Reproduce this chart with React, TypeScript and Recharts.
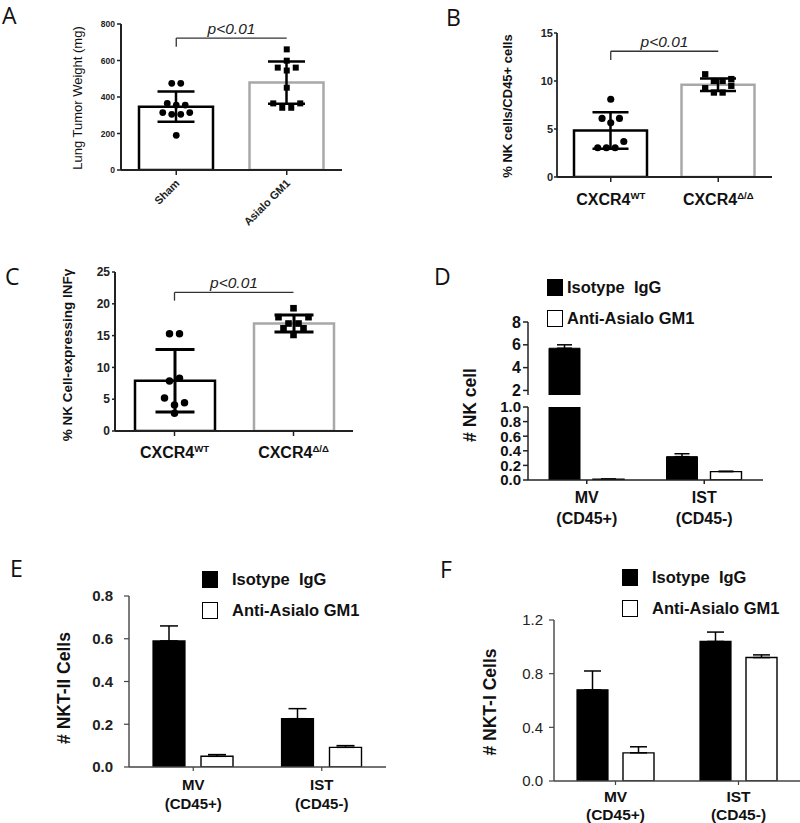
import React from "react";
import {
  Bar,
  Cell,
  ComposedChart,
  ErrorBar,
  Legend,
  ReferenceLine,
  Scatter,
  XAxis,
  YAxis,
  ZAxis,
} from "recharts";

const W = 800;
const H = 823;
const YW = 50;
const XH = 40;
const SANS = '"Liberation Sans", Arial, Helvetica, sans-serif';

// ---- panel A: lung tumor weight
const aGroups = ["Sham", "Asialo GM1"];
const aMeans = [347, 479];
const aSD = [83, 116];
const aShamRows = [[475, 475], [365, 356, 356], [315, 305, 305, 315], [190]];
const aAsialoRows = [[661], [599], [561, 545, 561], [451], [365, 341, 341, 365]];
const aTicks = [0, 200, 400, 600, 800];

// ---- panel B: % NK cells / CD45+
const cxcrGroups = ["WT", "KO"];
const cxcrSup = ["WT", "Δ/Δ"];
const bMeans = [4.85, 9.6];
const bSD = [1.9, 0.65];
const bWtRows = [[8.1], [6.1, 5.65, 6.1], [3.05, 3.05, 3.05, 3.7]];
const bKoRows = [[10.7, 10.0, 10.0, 10.2], [9.25, 8.8, 8.8, 9.5]];
const bTicks = [0, 5, 10, 15];

// ---- panel C: % NK cells expressing IFNg
const cMeans = [7.9, 16.9];
const cSD = [4.9, 1.35];
const cWtRows = [[15.3, 15.3], [7.85, 8.3], [5.2, 4.1, 4.45], [2.8]];
const cKoRows = [[19.3], [17.9, 16.9, 16.9, 17.9], [16.15, 15.1, 16.15]];
const cTicks = [0, 5, 10, 15, 20, 25];

// ---- panels D, E, F
const sites = ["MV", "IST"];
const siteSub = ["(CD45+)", "(CD45-)"];
const seriesNames = ["Isotype  IgG", "Anti-Asialo GM1"];

const dIsotype = [5.7, 0.32];
const dIsotypeErr = [0.3, 0.04];
const dAnti = [0.01, 0.115];
const dAntiErr = [0.003, 0.005];
const dTopTicks = [2, 4, 6, 8];
const dLowTicks = [0, 0.2, 0.4, 0.6, 0.8, 1.0];

const eIsotype = [0.59, 0.226];
const eIsotypeErr = [0.07, 0.047];
const eAnti = [0.05, 0.092];
const eAntiErr = [0.008, 0.008];
const eTicks = [0, 0.2, 0.4, 0.6, 0.8];

const fIsotype = [0.68, 1.04];
const fIsotypeErr = [0.14, 0.07];
const fAnti = [0.21, 0.92];
const fAntiErr = [0.045, 0.02];
const fTicks = [0, 0.4, 0.8, 1.2];

type Rect = { x0: number; x1: number; y0: number; y1: number };

const abs: React.CSSProperties = { position: "absolute", left: 0, top: 0 };

function frame(r: Rect, withXAxis = true) {
  return {
    top: r.y0,
    left: r.x0 - YW,
    right: W - r.x1,
    bottom: H - r.y1 - (withXAxis ? XH : 0),
  };
}

// rows of dots are spread sideways, centred on the group
function spread(rows: number[][], index: number, step: number) {
  const pts: { x: number; y: number }[] = [];
  rows.forEach((row) =>
    row.forEach((v, i) => pts.push({ x: index + (i - (row.length - 1) / 2) * step, y: v }))
  );
  return pts;
}

type DotPanelProps = {
  rect: Rect;
  groups: string[];
  means: number[];
  sds: number[];
  leftRows: number[][];
  rightRows: number[][];
  domain: [number, number];
  ticks: number[];
  barSize: number;
  dotGap: number;
  dotArea: number;
  capHalf: number;
  errStroke: number;
  axisStroke: number;
  yTickFont: number;
  yTickSize: number;
  yTickMargin: number;
  bracket: number;
  bracketTick: number;
  xTick: (props: any) => React.ReactElement;
};

function DotBarPanel(p: DotPanelProps) {
  const band = (p.rect.x1 - p.rect.x0) / 2;
  const step = p.dotGap / band;
  const rows = p.groups.map((g, i) => ({ name: g, mean: p.means[i], sd: p.sds[i] }));
  const leftDots = spread(p.leftRows, 0, step);
  const rightDots = spread(p.rightRows, 1, step);
  const barColors = ["#000", "#a8a8a8"];
  return (
    <div style={abs}>
      <ComposedChart width={W} height={H} data={rows} margin={frame(p.rect)}>
        <XAxis
          xAxisId="cat"
          dataKey="name"
          height={XH}
          tickSize={5}
          tickMargin={2}
          axisLine={{ stroke: "#222", strokeWidth: p.axisStroke }}
          tickLine={{ stroke: "#222", strokeWidth: 1.5 }}
          tick={p.xTick}
          interval={0}
        />
        <XAxis xAxisId="dots" type="number" dataKey="x" domain={[-0.5, 1.5]} allowDataOverflow hide />
        <YAxis
          width={YW}
          domain={p.domain}
          ticks={p.ticks}
          interval={0}
          allowDataOverflow
          tickSize={p.yTickSize}
          tickMargin={p.yTickMargin}
          axisLine={{ stroke: "#222", strokeWidth: p.axisStroke }}
          tickLine={{ stroke: "#222", strokeWidth: 1.5 }}
          tick={{ fontSize: p.yTickFont, fontWeight: "bold", fontFamily: SANS, fill: "#222" }}
        />
        <ZAxis range={[p.dotArea, p.dotArea]} />
        <Bar
          xAxisId="cat"
          dataKey="mean"
          barSize={p.barSize}
          fill="#fff"
          strokeWidth={2.5}
          isAnimationActive={false}
        >
          {rows.map((r, i) => (
            <Cell key={r.name} stroke={barColors[i]} />
          ))}
          <ErrorBar dataKey="sd" width={p.capHalf} strokeWidth={p.errStroke} stroke="#000" />
        </Bar>
        <Scatter xAxisId="dots" data={leftDots} dataKey="y" shape="circle" fill="#000" isAnimationActive={false} />
        <Scatter xAxisId="dots" data={rightDots} dataKey="y" shape="square" fill="#000" isAnimationActive={false} />
        <ReferenceLine
          xAxisId="dots"
          segment={[
            { x: 0, y: p.bracket },
            { x: 1, y: p.bracket },
          ]}
          stroke="#333"
          strokeWidth={1.3}
          label={{
            value: "p<0.01",
            position: "top",
            offset: 4,
            fill: "#222",
            fontSize: 15.5,
            fontStyle: "italic",
            fontFamily: SANS,
          }}
        />
        <ReferenceLine
          xAxisId="dots"
          segment={[
            { x: 0, y: p.bracket },
            { x: 0, y: p.bracketTick },
          ]}
          stroke="#333"
          strokeWidth={1.3}
        />
      </ComposedChart>
    </div>
  );
}

function RotatedTick(props: any) {
  const { x, y, payload } = props;
  return (
    <text
      x={x + 4}
      y={y + 7}
      transform={`rotate(-45 ${x + 4} ${y + 7})`}
      textAnchor="end"
      fontSize={11}
      fontWeight="bold"
      fontFamily={SANS}
      fill="#222"
    >
      {payload.value}
    </text>
  );
}

function makeSupTick(fontSize: number, dy: number) {
  return (props: any) => {
    const { x, y, index } = props;
    return (
      <text x={x} y={y + dy} textAnchor="middle" fontSize={fontSize} fontWeight="bold" fontFamily={SANS} fill="#111">
        <tspan>CXCR4</tspan>
        <tspan dy={-fontSize * 0.4} fontSize={fontSize * 0.6}>
          {cxcrSup[index]}
        </tspan>
      </text>
    );
  };
}

function makeSiteTick(fontSize: number, d1: number, d2: number) {
  return (props: any) => {
    const { x, y, index, payload } = props;
    return (
      <text textAnchor="middle" fontSize={fontSize} fontWeight="bold" fontFamily={SANS} fill="#111">
        <tspan x={x} y={y + d1}>
          {payload.value}
        </tspan>
        <tspan x={x} y={y + d2}>
          {siteSub[index]}
        </tspan>
      </text>
    );
  };
}

function makeLegend(gap: number, fontSize: number) {
  return (props: any) => {
    const items = [...(props.payload || [])].sort(
      (a: any, b: any) => seriesNames.indexOf(a.value) - seriesNames.indexOf(b.value)
    );
    return (
      <div>
        {items.map((e: any) => (
          <div key={e.value} style={{ display: "flex", alignItems: "center", height: 17, marginBottom: 14 }}>
            <span
              style={{
                width: 16,
                height: 17,
                boxSizing: "border-box",
                background: e.color,
                border: "1.5px solid #000",
                marginRight: gap,
              }}
            />
            <span
              style={{
                fontFamily: SANS,
                fontWeight: "bold",
                fontSize,
                color: "#111",
                whiteSpace: "pre",
              }}
            >
              {e.value}
            </span>
          </div>
        ))}
      </div>
    );
  };
}

function siteRows(iso: number[], isoErr: number[], anti: number[], antiErr: number[]) {
  return sites.map((s, i) => ({
    site: s,
    iso: iso[i],
    anti: anti[i],
    isoErr: [0, isoErr[i]],
    antiErr: [0, antiErr[i]],
  }));
}

type GroupPanelProps = {
  rect: Rect;
  data: any[];
  domain: [number, number];
  ticks: number[];
  barSize: number;
  barGap: number;
  capHalf: number;
  tickFont: number;
  tickWeight: string;
  tickMargin: number;
  axisColor: string;
  xTick: (props: any) => React.ReactElement;
  legendAt: { left: number; top: number };
  legendGap: number;
};

function GroupPanel(p: GroupPanelProps) {
  return (
    <div style={abs}>
      <ComposedChart width={W} height={H} data={p.data} margin={frame(p.rect)} barGap={p.barGap}>
        <XAxis
          dataKey="site"
          height={XH}
          tickSize={4}
          tickMargin={3}
          axisLine={{ stroke: p.axisColor, strokeWidth: 1.4 }}
          tickLine={{ stroke: p.axisColor, strokeWidth: 1.2 }}
          tick={p.xTick}
          interval={0}
        />
        <YAxis
          width={YW}
          domain={p.domain}
          ticks={p.ticks}
          interval={0}
          allowDataOverflow
          tickSize={5}
          tickMargin={p.tickMargin}
          tickFormatter={(v: number) => v.toFixed(1)}
          axisLine={{ stroke: p.axisColor, strokeWidth: 1.4 }}
          tickLine={{ stroke: p.axisColor, strokeWidth: 1.2 }}
          tick={{ fontSize: p.tickFont, fontWeight: p.tickWeight, fontFamily: SANS, fill: "#222" }}
        />
        <Legend
          layout="vertical"
          align="center"
          verticalAlign="middle"
          content={makeLegend(p.legendGap, 16.5)}
          wrapperStyle={{ left: p.legendAt.left, top: p.legendAt.top, width: 240, height: 70 }}
        />
        <Bar
          dataKey="iso"
          name={seriesNames[0]}
          barSize={p.barSize}
          fill="#000"
          stroke="#000"
          strokeWidth={1.2}
          isAnimationActive={false}
        >
          <ErrorBar dataKey="isoErr" width={p.capHalf} strokeWidth={1.5} stroke="#000" />
        </Bar>
        <Bar
          dataKey="anti"
          name={seriesNames[1]}
          barSize={p.barSize}
          fill="#fff"
          stroke="#000"
          strokeWidth={1.4}
          isAnimationActive={false}
        >
          <ErrorBar dataKey="antiErr" width={p.capHalf} strokeWidth={1.5} stroke="#000" />
        </Bar>
      </ComposedChart>
    </div>
  );
}

// panel D has a broken y axis: an upper chart (1.6..8) over a lower one (0..1)
const D_LOW_MAX = 1;
const D_TOP_MIN = 1.6;
const dRows = sites.map((s, i) => ({
  site: s,
  iso: dIsotype[i],
  anti: dAnti[i],
  isoTop: dIsotype[i] > D_TOP_MIN ? dIsotype[i] : null,
  antiTop: dAnti[i] > D_TOP_MIN ? dAnti[i] : null,
  isoErrTop: dIsotype[i] > D_LOW_MAX ? [0, dIsotypeErr[i]] : null,
  isoErrLow: dIsotype[i] > D_LOW_MAX ? null : [0, dIsotypeErr[i]],
  antiErr: [0, dAntiErr[i]],
}));

const dTop: Rect = { x0: 528, x1: 763, y0: 322, y1: 395 };
const dLow: Rect = { x0: 528, x1: 763, y0: 407, y1: 480 };

function PanelD() {
  const axis = { stroke: "#222", strokeWidth: 1.5 };
  const tick = { fontSize: 15, fontWeight: "bold", fontFamily: SANS, fill: "#111" };
  return (
    <>
      <div style={abs}>
        <ComposedChart width={W} height={H} data={dRows} margin={frame(dTop, false)} barGap={13}>
          <XAxis dataKey="site" hide />
          <YAxis
            width={YW}
            domain={[D_TOP_MIN, 8]}
            ticks={dTopTicks}
            interval={0}
            allowDataOverflow
            tickSize={5}
            tickMargin={2}
            axisLine={axis}
            tickLine={axis}
            tick={{ ...tick, fontSize: 16 }}
          />
          <Legend
            layout="vertical"
            align="center"
            verticalAlign="middle"
            content={makeLegend(4, 16.5)}
            wrapperStyle={{ left: 547, top: 279, width: 240, height: 70 }}
          />
          <Bar dataKey="isoTop" name={seriesNames[0]} barSize={31} fill="#000" stroke="#000" isAnimationActive={false}>
            <ErrorBar dataKey="isoErrTop" width={7.5} strokeWidth={1.5} stroke="#000" />
          </Bar>
          <Bar dataKey="antiTop" name={seriesNames[1]} barSize={31} fill="#fff" stroke="#000" isAnimationActive={false} />
        </ComposedChart>
      </div>
      <div style={abs}>
        <ComposedChart width={W} height={H} data={dRows} margin={frame(dLow)} barGap={13}>
          <XAxis
            dataKey="site"
            height={XH}
            tickSize={4}
            tickMargin={3}
            axisLine={axis}
            tickLine={axis}
            tick={makeSiteTick(16, 16, 37)}
            interval={0}
          />
          <YAxis
            width={YW}
            domain={[0, D_LOW_MAX]}
            ticks={dLowTicks}
            interval={0}
            allowDataOverflow
            tickSize={5}
            tickMargin={2}
            tickFormatter={(v: number) => v.toFixed(1)}
            axisLine={axis}
            tickLine={axis}
            tick={tick}
          />
          <Bar dataKey="iso" barSize={31} fill="#000" stroke="#000" isAnimationActive={false}>
            <ErrorBar dataKey="isoErrLow" width={7.5} strokeWidth={1.5} stroke="#000" />
          </Bar>
          <Bar dataKey="anti" barSize={31} fill="#fff" stroke="#000" strokeWidth={1.4} isAnimationActive={false}>
            <ErrorBar dataKey="antiErr" width={7.5} strokeWidth={1.5} stroke="#000" />
          </Bar>
        </ComposedChart>
      </div>
    </>
  );
}

function Titles() {
  const letter = { fontFamily: '"Open Sans", sans-serif', fontSize: 23, fill: "#111" };
  const rot = (x: number, y: number, text: string, size: number, weight: string) => (
    <text
      x={x}
      y={y}
      transform={`rotate(-90 ${x} ${y})`}
      textAnchor="middle"
      dominantBaseline="central"
      fontFamily={SANS}
      fontSize={size}
      fontWeight={weight}
      fill="#111"
    >
      {text}
    </text>
  );
  return (
    <svg width={W} height={H} style={{ ...abs, pointerEvents: "none" }}>
      <text x={2} y={24} {...letter}>A</text>
      <text x={446} y={26} {...letter}>B</text>
      <text x={5} y={285} {...letter}>C</text>
      <text x={434} y={285} {...letter}>D</text>
      <text x={10} y={577} {...letter}>E</text>
      <text x={440} y={578} {...letter}>F</text>
      {rot(77, 98, "Lung Tumor Weight (mg)", 13, "normal")}
      {rot(507, 106, "% NK cells/CD45+ cells", 13, "bold")}
      {rot(67, 355, "% NK Cell-expressing INFγ", 13.5, "bold")}
      {rot(470, 405, "# NK cell", 17.5, "bold")}
      {rot(64, 688, "# NKT-II Cells", 17.5, "bold")}
      {rot(490, 702, "# NKT-I Cells", 17.5, "bold")}
    </svg>
  );
}

export default function App() {
  return (
    <div style={{ position: "absolute", left: 0, top: 0, width: W, height: H, background: "#fff" }}>
      <DotBarPanel
        rect={{ x0: 121, x1: 342, y0: 24, y1: 170 }}
        groups={aGroups}
        means={aMeans}
        sds={aSD}
        leftRows={aShamRows}
        rightRows={aAsialoRows}
        domain={[0, 800]}
        ticks={aTicks}
        barSize={74}
        dotGap={9}
        dotArea={36}
        capHalf={18.5}
        errStroke={2.5}
        axisStroke={2}
        yTickFont={8.5}
        yTickSize={4}
        yTickMargin={2}
        bracket={723}
        bracketTick={676}
        xTick={RotatedTick}
      />
      <DotBarPanel
        rect={{ x0: 557, x1: 772, y0: 33, y1: 177 }}
        groups={cxcrGroups}
        means={bMeans}
        sds={bSD}
        leftRows={bWtRows}
        rightRows={bKoRows}
        domain={[0, 15]}
        ticks={bTicks}
        barSize={73}
        dotGap={8.7}
        dotArea={40}
        capHalf={18}
        errStroke={2.5}
        axisStroke={1.8}
        yTickFont={11}
        yTickSize={3}
        yTickMargin={1}
        bracket={13.1}
        bracketTick={12.2}
        xTick={makeSupTick(16, 21)}
      />
      <DotBarPanel
        rect={{ x0: 115, x1: 353, y0: 272, y1: 431 }}
        groups={cxcrGroups}
        means={cMeans}
        sds={cSD}
        leftRows={cWtRows}
        rightRows={cKoRows}
        domain={[0, 25]}
        ticks={cTicks}
        barSize={80}
        dotGap={10}
        dotArea={44}
        capHalf={19.5}
        errStroke={3}
        axisStroke={2}
        yTickFont={12}
        yTickSize={3}
        yTickMargin={2}
        bracket={21.8}
        bracketTick={20.5}
        xTick={makeSupTick(16, 20)}
      />
      <PanelD />
      <GroupPanel
        rect={{ x0: 129, x1: 386, y0: 596, y1: 767 }}
        data={siteRows(eIsotype, eIsotypeErr, eAnti, eAntiErr)}
        domain={[0, 0.8]}
        ticks={eTicks}
        barSize={32}
        barGap={16}
        capHalf={9}
        tickFont={15}
        tickWeight="bold"
        tickMargin={11}
        axisColor="#444"
        xTick={makeSiteTick(15, 16, 35)}
        legendAt={{ left: 202, top: 571 }}
        legendGap={14}
      />
      <GroupPanel
        rect={{ x0: 554, x1: 800, y0: 620, y1: 781 }}
        data={siteRows(fIsotype, fIsotypeErr, fAnti, fAntiErr)}
        domain={[0, 1.2]}
        ticks={fTicks}
        barSize={31}
        barGap={15}
        capHalf={8.5}
        tickFont={15}
        tickWeight="normal"
        tickMargin={6}
        axisColor="#444"
        xTick={makeSiteTick(15.5, 14, 32)}
        legendAt={{ left: 622, top: 569 }}
        legendGap={14}
      />
      <Titles />
    </div>
  );
}
